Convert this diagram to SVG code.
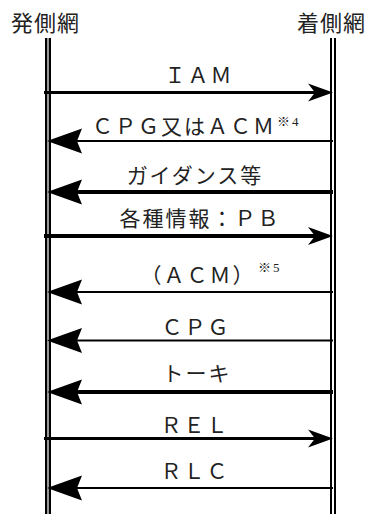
<svg xmlns="http://www.w3.org/2000/svg" width="366" height="514" viewBox="0 0 366 514">
<style>
.hdr{font-family:"Noto Sans CJK JP",sans-serif;font-size:22px;letter-spacing:1px;fill:#222}
.lbl{font-family:"Liberation Serif","Noto Sans CJK JP",serif;font-size:21px;letter-spacing:2px;fill:#222;text-anchor:middle}
.sup{font-family:"Liberation Serif","Noto Sans CJK JP",serif;font-size:13px;letter-spacing:2px;fill:#222}
.msg{stroke:#000;fill:none}
.thin{stroke-width:2}
.mid{stroke-width:3}
.thick{stroke-width:4}
.r{marker-end:url(#hs)}
.l{marker-end:url(#hb)}
</style>
<defs>
<marker id="hs" markerUnits="userSpaceOnUse" markerWidth="26" markerHeight="20" refX="7" refY="9" orient="auto" overflow="visible">
<path d="M0,0 L25,9 L0,18 L7,9 Z" fill="#000"/>
</marker>
<marker id="hb" markerUnits="userSpaceOnUse" markerWidth="36" markerHeight="26" refX="5" refY="12.5" orient="auto" overflow="visible">
<path d="M0,0 L35,12.5 L0,25 L5,12.5 Z" fill="#000"/>
</marker>
</defs>
<rect width="366" height="514" fill="#fff"/>
<g id="orig">
<text class="hdr" x="11" y="31">発側網</text>
<rect x="46" y="38" width="4" height="476" fill="#999"/>
<line x1="46" y1="38" x2="46" y2="514" stroke="#000" stroke-width="2"/>
<line x1="50" y1="38" x2="50" y2="514" stroke="#000" stroke-width="2"/>
</g>
<g id="term">
<text class="hdr" x="297" y="31">着側網</text>
<line x1="331" y1="38" x2="331" y2="514" stroke="#000" stroke-width="2"/>
<line x1="335" y1="38" x2="335" y2="514" stroke="#000" stroke-width="2"/>
</g>
<g id="connectors">
<line class="msg mid r" x1="44" y1="92.5" x2="315" y2="92.5"/>
<line class="msg thin l" x1="333" y1="141" x2="77" y2="141"/>
<line class="msg thick l" x1="333" y1="192" x2="77" y2="192"/>
<line class="msg thick r" x1="44" y1="236" x2="315" y2="236"/>
<line class="msg thin l" x1="333" y1="292" x2="77" y2="292"/>
<line class="msg thin l" x1="333" y1="340.5" x2="77" y2="340.5"/>
<line class="msg thick l" x1="333" y1="392" x2="77" y2="392"/>
<line class="msg mid r" x1="44" y1="438.5" x2="315" y2="438.5"/>
<line class="msg thin l" x1="333" y1="488" x2="77" y2="488"/>
</g>
<g id="labels">
<text class="lbl" x="199" y="83">ＩＡＭ</text>
<text class="lbl" x="184" y="134">ＣＰＧ又はＡＣＭ</text>
<text class="sup" x="277" y="126">※4</text>
<text class="lbl" x="195" y="183">ガイダンス等</text>
<text class="lbl" x="200" y="226">各種情報：ＰＢ</text>
<text class="lbl" x="198" y="283">（ＡＣＭ）</text>
<text class="sup" x="258" y="272">※5</text>
<text class="lbl" x="196" y="335">ＣＰＧ</text>
<text class="lbl" x="197" y="381">トーキ</text>
<text class="lbl" x="195" y="433">ＲＥＬ</text>
<text class="lbl" x="195" y="479">ＲＬＣ</text>
</g>
</svg>
